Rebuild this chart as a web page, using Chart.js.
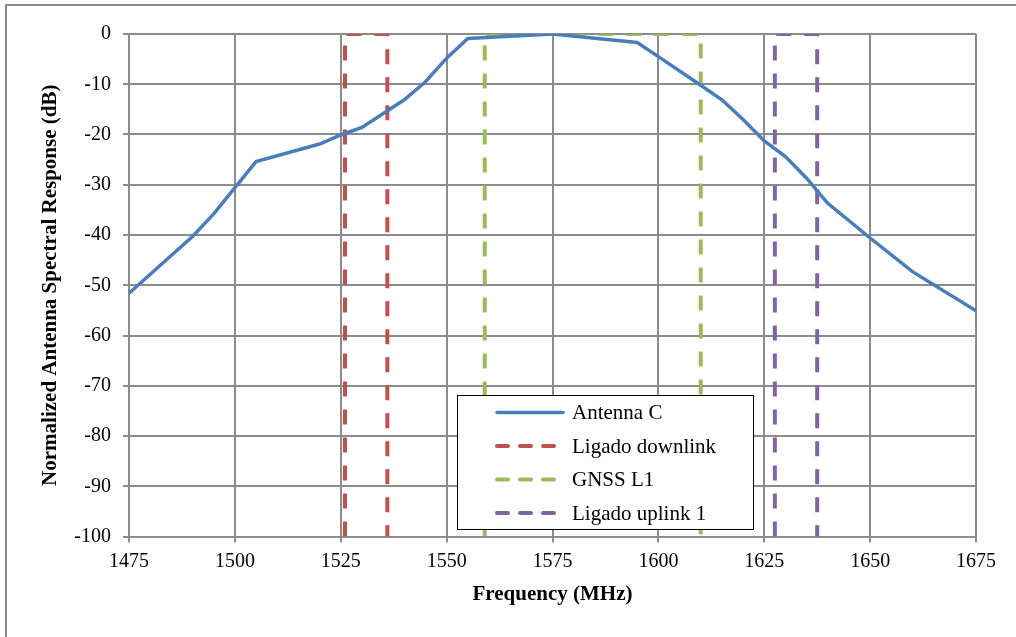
<!DOCTYPE html>
<html>
<head>
<meta charset="utf-8">
<script src="https://cdn.jsdelivr.net/npm/chart.js@4.4.1/dist/chart.umd.min.js"></script>
<style>
  html, body { margin: 0; padding: 0; background: #fff; }
  #wrap { position: relative; width: 1016px; height: 637px; overflow: hidden; }
  #frame { position: absolute; left: 5px; top: 4px; width: 1100px; height: 700px; border: 2px solid #8a8a8a; box-sizing: border-box; }
  canvas { position: absolute; left: 0; top: 0; }
</style>
</head>
<body>
<div id="wrap">
  <div id="frame"></div>
  <canvas id="c" width="1016" height="637"></canvas>
</div>
<script>
// ---- data ----
const antennaFreqs = [1475, 1490, 1495, 1505, 1520, 1525, 1530, 1540, 1545, 1550, 1555, 1575, 1595, 1600, 1610, 1615, 1620, 1625, 1630, 1635, 1638, 1640, 1650, 1660, 1675];
const antennaValues = [-51.6, -40.3, -35.8, -25.4, -21.9, -20.1, -18.6, -13.1, -9.5, -4.8, -0.9, 0, -1.7, -4.5, -10.2, -13.1, -17.0, -21.3, -24.4, -28.7, -31.7, -33.7, -40.6, -47.3, -55.1];
const downlinkFreqs = [1526, 1526, 1536, 1536];
const downlinkLevels = [-100, 0, 0, -100];
const gnssFreqs = [1559, 1559, 1610, 1610];
const gnssLevels = [-100, 0, 0, -100];
const uplinkFreqs = [1627.5, 1627.5, 1637.5, 1637.5];
const uplinkLevels = [-100, 0, 0, -100];
const seriesNames = ['Antenna C', 'Ligado downlink', 'GNSS L1', 'Ligado uplink 1'];
const xTickValues = [1475, 1500, 1525, 1550, 1575, 1600, 1625, 1650, 1675];
const yTickValues = [0, -10, -20, -30, -40, -50, -60, -70, -80, -90, -100];
const xTitle = 'Frequency (MHz)';
const yTitle = 'Normalized Antenna Spectral Response (dB)';

const pts = (xs, ys) => xs.map((x, i) => ({ x: x, y: ys[i] }));

const FONT = "'Liberation Serif', 'Times New Roman', serif";
const GRID = '#8c8c8c';

const dashStyle = { borderDash: [15, 13], borderCapStyle: 'butt', borderWidth: 4 };

const legendPlugin = {
  id: 'boxLegend',
  afterDraw(chart) {
    const ctx = chart.ctx;
    const bx = 457, by = 395, bw = 296, bh = 134;
    ctx.save();
    ctx.fillStyle = '#fff';
    ctx.fillRect(bx, by, bw, bh);
    ctx.strokeStyle = '#000';
    ctx.lineWidth = 1;
    ctx.strokeRect(bx + 0.5, by + 0.5, bw, bh);
    ctx.font = '21px ' + FONT;
    ctx.textBaseline = 'middle';
    ctx.fillStyle = '#000';
    chart.data.datasets.forEach((ds, k) => {
      const y = 412.5 + 33.5 * k;
      ctx.beginPath();
      ctx.strokeStyle = ds.borderColor;
      ctx.lineWidth = ds.borderWidth;
      ctx.lineCap = 'round';
      ctx.setLineDash(ds.borderDash ? [11, 12] : []);
      ctx.moveTo(497, y);
      ctx.lineTo(563, y);
      ctx.stroke();
      ctx.setLineDash([]);
      ctx.fillText(ds.label, 572, y + 1);
    });
    ctx.restore();
  }
};

new Chart(document.getElementById('c'), {
  type: 'line',
  data: {
    datasets: [
      { label: seriesNames[0], data: pts(antennaFreqs, antennaValues), borderColor: '#4a7ebb', borderWidth: 3.5, pointRadius: 0, tension: 0, order: 0 },
      Object.assign({ label: seriesNames[1], data: pts(downlinkFreqs, downlinkLevels), borderColor: '#c0504d', pointRadius: 0, order: 1 }, dashStyle),
      Object.assign({ label: seriesNames[2], data: pts(gnssFreqs, gnssLevels), borderColor: '#9bbb59', pointRadius: 0, order: 2 }, dashStyle),
      Object.assign({ label: seriesNames[3], data: pts(uplinkFreqs, uplinkLevels), borderColor: '#8064a2', pointRadius: 0, order: 3 }, dashStyle)
    ]
  },
  options: {
    responsive: false,
    animation: false,
    devicePixelRatio: 1,
    layout: { padding: { left: 38, top: 34, right: 40, bottom: 30 } },
    plugins: { legend: { display: false }, tooltip: { enabled: false } },
    elements: { line: { fill: false } },
    scales: {
      x: {
        type: 'linear', min: 1475, max: 1675,
        afterBuildTicks: a => { a.ticks = xTickValues.map(v => ({ value: v })); },
        afterFit: s => { s.height = 70.5; },
        ticks: { color: '#000', font: { family: FONT, size: 20 }, padding: 7, maxRotation: 0, autoSkip: false, callback: v => String(v) },
        grid: { color: GRID, lineWidth: 2, tickLength: 6, tickColor: GRID },
        border: { color: GRID, width: 2 },
        title: { display: true, text: xTitle, color: '#000', font: { family: FONT, size: 21, weight: 'bold', lineHeight: 1.2 }, padding: 0 }
      },
      y: {
        type: 'linear', min: -100, max: 0,
        afterBuildTicks: a => { a.ticks = yTickValues.map(v => ({ value: v })); },
        afterFit: s => { s.width = 91; },
        ticks: { color: '#000', font: { family: FONT, size: 20 }, padding: 12, autoSkip: false, callback: v => String(v) },
        grid: { color: GRID, lineWidth: 2, tickLength: 6, tickColor: GRID },
        border: { color: GRID, width: 2 },
        title: { display: true, text: yTitle, color: '#000', font: { family: FONT, size: 21, weight: 'bold', lineHeight: 1.2 }, padding: 0 }
      }
    }
  },
  plugins: [legendPlugin]
});
</script>
</body>
</html>
